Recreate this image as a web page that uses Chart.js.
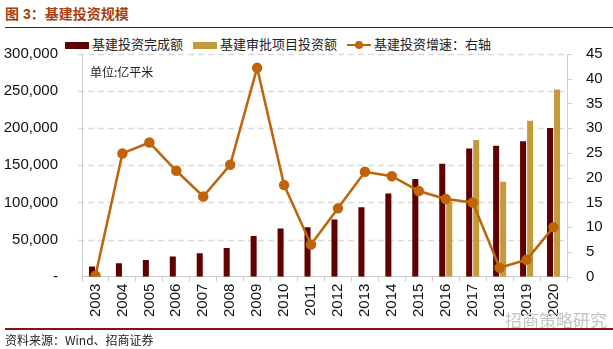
<!DOCTYPE html>
<html>
<head>
<meta charset="utf-8">
<script src="https://cdn.jsdelivr.net/npm/chart.js@4.4.0/dist/chart.umd.min.js"></script>
<style>
  body { margin: 0; background: #fff; width: 613px; height: 349px; overflow: hidden; position: relative;
         font-family: "Liberation Sans", Arial, "Noto Sans CJK SC", sans-serif; }
  #title { position: absolute; left: 5px; top: 3px; font-size: 14px; font-weight: bold; color: #A8400E;
           font-family: "Liberation Sans", "Noto Sans CJK SC", sans-serif; }
  #rule1 { position: absolute; left: 5px; right: 0; top: 27px; height: 0; border-top: 1.5px solid #7A0A0A; }
  #rule2 { position: absolute; left: 5px; right: 0; top: 328px; height: 0; border-top: 2px solid #8A1010; }
  #source { position: absolute; left: 5px; top: 331px; font-size: 12px; color: #222;
            font-family: "Noto Sans CJK SC", sans-serif; }
  #legend { position: absolute; left: 65px; top: 32px; font-size: 13px; color: #222;
            font-family: "Noto Sans CJK SC", sans-serif; white-space: nowrap; }
  #legend span.item { display: inline-block; margin-right: 7px; vertical-align: middle; }
  .box { display: inline-block; width: 24px; height: 7px; vertical-align: middle; margin-right: 3px; }
  .ln { display: inline-block; position: relative; width: 24px; height: 2px; background: #C0640A; vertical-align: middle; margin-right: 3px; }
  .ln i { position: absolute; left: 8px; top: -3px; width: 8px; height: 8px; border-radius: 50%; background: #C0640A; }
  #mark { position: absolute; left: 505px; top: 307px; font-size: 17px; color: #c4c4c4;
          font-family: "Noto Sans CJK SC", sans-serif; }
  #wrap { position: absolute; left: 0; top: 29px; width: 613px; height: 290px; }
</style>
</head>
<body>
<div id="title">图 3：基建投资规模</div>
<div id="rule1"></div>
<div id="legend">
  <span class="item"><span class="box" style="background:#600000"></span>基建投资完成额</span>
  <span class="item"><span class="box" style="background:#C39B3A"></span>基建审批项目投资额</span>
  <span class="item"><span class="ln"><i></i></span>基建投资增速：右轴</span>
</div>
<div id="wrap"><canvas id="c"></canvas></div>
<div id="mark">招商策略研究</div>
<div id="rule2"></div>
<div id="source">资料来源：Wind、招商证券</div>
<script>
const years = ['2003','2004','2005','2006','2007','2008','2009','2010','2011','2012','2013','2014','2015','2016','2017','2018','2019','2020'];
const completed = [13500, 18000, 22500, 27000, 31500, 38700, 54900, 64800, 66600, 77000, 93600, 112000, 131400, 152100, 172800, 176400, 182300, 200300];
const approved = [null, null, null, null, null, null, null, null, null, null, null, null, null, 101300, 184000, 127800, 210200, 252000];
const growth = [0.2, 24.9, 27.1, 21.4, 16.2, 22.6, 42.2, 18.5, 6.5, 13.8, 21.2, 20.3, 17.3, 15.7, 15.0, 1.8, 3.4, 10.0];
const leftTicks = [0, 50000, 100000, 150000, 200000, 250000, 300000];
const rightTicks = [0, 5, 10, 15, 20, 25, 30, 35, 40, 45];

const numFont = { family: '"Liberation Sans", Arial, sans-serif', size: 15 };

// grid lines and axis lines, placed with the scales' own pixel mapping
const axisGrid = {
  id: 'axisGrid',
  beforeDatasetsDraw(chart) {
    const { ctx, chartArea: a, scales } = chart;
    ctx.save();
    ctx.lineWidth = 1.5;
    ctx.strokeStyle = '#d9d9d9';
    ctx.setLineDash([6, 4]);
    leftTicks.forEach(v => {
      if (v === 0) return;
      const py = Math.round(scales.y.getPixelForValue(v)) + 0.5;
      ctx.beginPath(); ctx.moveTo(a.left - 4, py); ctx.lineTo(a.right, py); ctx.stroke();
    });
    ctx.setLineDash([]);
    ctx.lineWidth = 1;
    ctx.strokeStyle = '#cfcfcf';
    ctx.beginPath();
    ctx.moveTo(a.left + 0.5, a.top); ctx.lineTo(a.left + 0.5, a.bottom);
    ctx.moveTo(a.right + 0.5, a.top); ctx.lineTo(a.right + 0.5, a.bottom);
    rightTicks.forEach(v => {
      const py = Math.round(scales.y1.getPixelForValue(v)) + 0.5;
      ctx.moveTo(a.right, py); ctx.lineTo(a.right + 5, py);
    });
    ctx.stroke();
    ctx.restore();
  },
  afterDraw(chart) {
    const { ctx, chartArea } = chart;
    ctx.save();
    ctx.font = '12px "Noto Sans CJK SC", sans-serif';
    ctx.fillStyle = '#222';
    ctx.textBaseline = 'middle';
    ctx.fillText('单位:亿平米', chartArea.left + 8, chartArea.top + 18);
    ctx.restore();
  }
};

new Chart(document.getElementById('c'), {
  type: 'bar',
  data: {
    labels: years,
    datasets: [
      { type: 'line', label: '基建投资增速：右轴', data: growth, yAxisID: 'y1', order: 0,
        borderColor: '#C0640A', backgroundColor: '#C0640A', borderWidth: 2.5,
        pointRadius: 4, pointHoverRadius: 4, tension: 0 },
      { label: '基建投资完成额', data: completed, backgroundColor: '#600000', yAxisID: 'y', order: 1,
        categoryPercentage: 0.52, barPercentage: 0.86 },
      { label: '基建审批项目投资额', data: approved, backgroundColor: '#C39B3A', yAxisID: 'y', order: 1,
        categoryPercentage: 0.52, barPercentage: 0.86 }
    ]
  },
  options: {
    responsive: true,
    maintainAspectRatio: false,
    animation: false,
    layout: { padding: { top: 4, left: 0, right: 0, bottom: 0 } },
    plugins: { legend: { display: false }, tooltip: { enabled: false } },
    scales: {
      x: {
        grid: { display: true, drawOnChartArea: false, drawTicks: true, tickLength: 5, color: '#cccccc', offset: true },
        border: { color: '#cccccc', width: 1 },
        ticks: { color: '#111', font: numFont, minRotation: 90, maxRotation: 90, padding: 2, autoSkip: false }
      },
      y: {
        position: 'left', min: 0, max: 300000,
        afterBuildTicks(s) { s.ticks = leftTicks.map(v => ({ value: v })); },
        afterFit(s) { s.width = 82; },
        grid: { display: false },
        border: { display: false },
        ticks: { color: '#111', font: numFont, padding: 16,
          callback: v => v === 0 ? '-' : v.toLocaleString('en-US') }
      },
      y1: {
        position: 'right', min: 0, max: 45,
        afterBuildTicks(s) { s.ticks = rightTicks.map(v => ({ value: v })); },
        afterFit(s) { s.width = 46; },
        grid: { display: false },
        border: { display: false },
        ticks: { color: '#111', font: numFont, padding: 11 }
      }
    }
  },
  plugins: [axisGrid]
});
</script>
</body>
</html>
